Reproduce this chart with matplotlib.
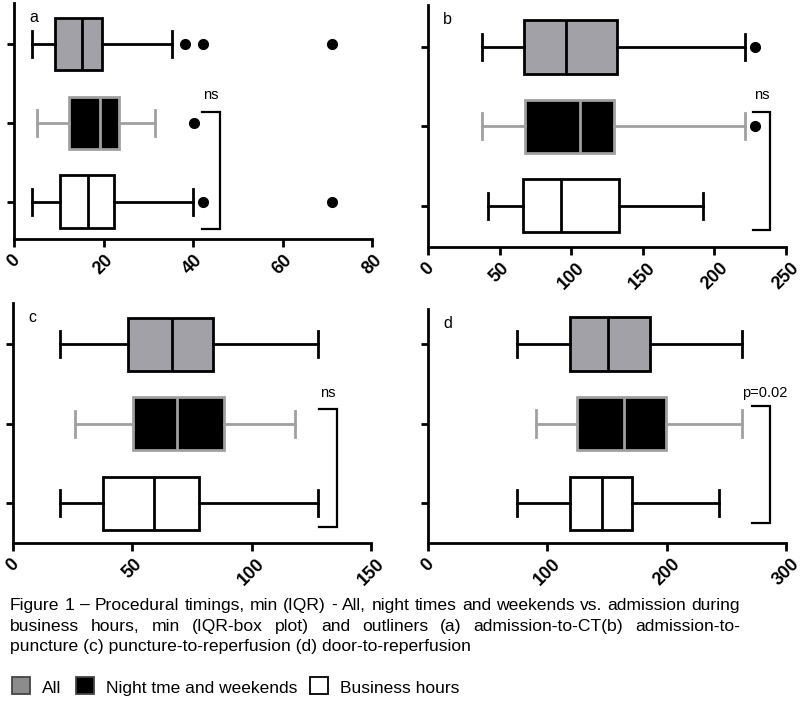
import matplotlib
matplotlib.use("agg")
from matplotlib import pyplot as plt
from matplotlib.patches import Rectangle

plt.rcParams['font.family'] = ['Liberation Sans', 'DejaVu Sans']

groups = ["All", "Night tme and weekends", "Business hours"]
# five-number summaries: whisker low, q1, median, q3, whisker high
a_all = [4.1, 9.2, 15.3, 19.7, 35.3]
a_night = [5.2, 12.2, 19.2, 23.4, 31.4]
a_business = [4.1, 10.2, 16.6, 22.4, 40.1]
a_outliers = [[38.3, 42.3, 71.1], [40.2], [42.3, 71.1]]

b_all = [38, 66.9, 96.7, 131.9, 221.3]
b_night = [38, 67.8, 106.2, 129.6, 221.3]
b_business = [42.2, 66.4, 93.2, 133.3, 192.2]
b_outliers = [[228.3], [228.3], []]

c_all = [19.9, 48.0, 66.8, 84.0, 127.9]
c_night = [26.0, 50.2, 68.9, 88.5, 118.0]
c_business = [19.9, 37.9, 59.0, 78.0, 127.9]
c_outliers = [[], [], []]

d_all = [74.6, 119.4, 151.0, 185.7, 263.4]
d_night = [90.9, 124.7, 164.4, 199.6, 263.4]
d_business = [74.6, 118.6, 145.9, 170.8, 243.6]
d_outliers = [[], [], []]

labels = ["a", "b", "c", "d"]
xmax = [80, 250, 150, 300]
xstep = [20, 50, 50, 100]
sig_text = ["ns", "ns", "ns", "p=0.02"]
bracket_x = [(42, 46), (226.7, 238.8), (128.3, 135.9), (271.8, 286.6)]

caption = ["Figure 1 \u2013 Procedural timings, min (IQR) - All, night times and weekends vs. admission during",
           "business hours, min (IQR-box plot) and outliners (a) admission-to-CT(b) admission-to-",
           "puncture (c) puncture-to-reperfusion (d) door-to-reperfusion"]

fills = ["#a1a1a7", "black", "white"]
edges = ["black", "#a0a0a0", "black"]

W, H = 800, 702
fig = plt.figure(figsize=(8, 7.02), dpi=100)

# axes rectangles in pixels (left, top, right, bottom) and y-limits
rects = [(14, 3, 372, 239), (428, 5, 786, 247), (13, 303, 371, 543), (428, 309, 786, 543)]
ylims = [(2.47, -0.52), (2.52, -0.53), (2.5, -0.52), (2.5, -0.44)]
brk_y = [(0.86, 2.34), (0.82, 2.30), (0.82, 2.30), (0.78, 2.25)]
sig_y = [0.70, 0.66, 0.66, 0.66]

panels = [(a_all, a_night, a_business, a_outliers),
          (b_all, b_night, b_business, b_outliers),
          (c_all, c_night, c_business, c_outliers),
          (d_all, d_night, d_business, d_outliers)]

for i, (s_all, s_night, s_bus, outl) in enumerate(panels):
    l, t, r, b = rects[i]
    ax = fig.add_axes([l / W, 1 - b / H, (r - l) / W, (b - t) / H])
    for k, s in enumerate([s_all, s_night, s_bus]):
        st = dict(whislo=s[0], q1=s[1], med=s[2], q3=s[3], whishi=s[4], fliers=outl[k])
        ec = edges[k]
        ax.bxp([st], positions=[k], vert=False, widths=0.67, patch_artist=True,
               boxprops=dict(facecolor=fills[k], edgecolor=ec, linewidth=2),
               whiskerprops=dict(color=ec, linewidth=2),
               capprops=dict(color=ec, linewidth=2),
               medianprops=dict(color=ec, linewidth=2),
               capwidths=0.33,
               flierprops=dict(marker='o', markerfacecolor='black', markeredgecolor='black',
                               markersize=7))
    x0, x1 = bracket_x[i]
    y0, y1 = brk_y[i]
    ax.plot([x0, x1, x1, x0], [y0, y0, y1, y1], color='black', lw=1.6, solid_joinstyle='miter')
    ax.text((x0 + x1) / 2 + (3 if i == 3 else 0) * xmax[i] / 300, sig_y[i], sig_text[i],
            ha='center', va='baseline', fontsize=10.5)
    ax.set_xlim(0, xmax[i])
    ax.set_ylim(*ylims[i])
    ax.set_yticks([0, 1, 2])
    ax.set_yticklabels([])
    ticks = list(range(0, xmax[i] + 1, xstep[i]))
    ax.set_xticks(ticks)
    ax.set_xticklabels([str(v) for v in ticks], rotation=45, ha='center', va='top',
                       fontweight='bold', fontsize=13)
    ax.tick_params(axis='x', length=6, width=2, pad=3)
    ax.tick_params(axis='y', length=5, width=2)
    for sp in ['top', 'right']:
        ax.spines[sp].set_visible(False)
    for sp in ['left', 'bottom']:
        ax.spines[sp].set_linewidth(2)
    ax.set_facecolor('none')
    fig.text((l + 15) / W, 1 - (t + 15) / H, labels[i], fontsize=11.5,
             ha='left', va='center')

# caption, justified except the last line
fig.canvas.draw()
renderer = fig.canvas.get_renderer()
cap_size = 12.6
baselines = [610, 631, 651]
target_right = 740
for j, line in enumerate(caption):
    yb = 1 - baselines[j] / H
    if j == len(caption) - 1:
        fig.text(10 / W, yb, line, fontsize=cap_size, va='baseline', ha='left')
        continue
    words = line.split(" ")
    texts = [fig.text(0, yb, w_, fontsize=cap_size, va='baseline', ha='left') for w_ in words]
    widths = [tx.get_window_extent(renderer).width for tx in texts]
    gap = (target_right - 10 - sum(widths)) / (len(words) - 1)
    x = 10
    for tx, wd in zip(texts, widths):
        tx.set_x(x / W)
        x += wd + gap

# legend row
leg_x = [12, 76, 310]
for k in range(3):
    ec = "#444444" if k < 2 else "black"
    fig.patches.append(Rectangle((leg_x[k] / W, 1 - 694 / H), 18 / W, 17 / H,
                                 facecolor=fills[k] if k != 0 else "#8c8c8c",
                                 edgecolor=ec, lw=1.3, transform=fig.transFigure, figure=fig))
    fig.text((leg_x[k] + 30) / W, 1 - 693 / H, groups[k], fontsize=12.5, va='baseline', ha='left')

fig.savefig("out.png", dpi=100)
